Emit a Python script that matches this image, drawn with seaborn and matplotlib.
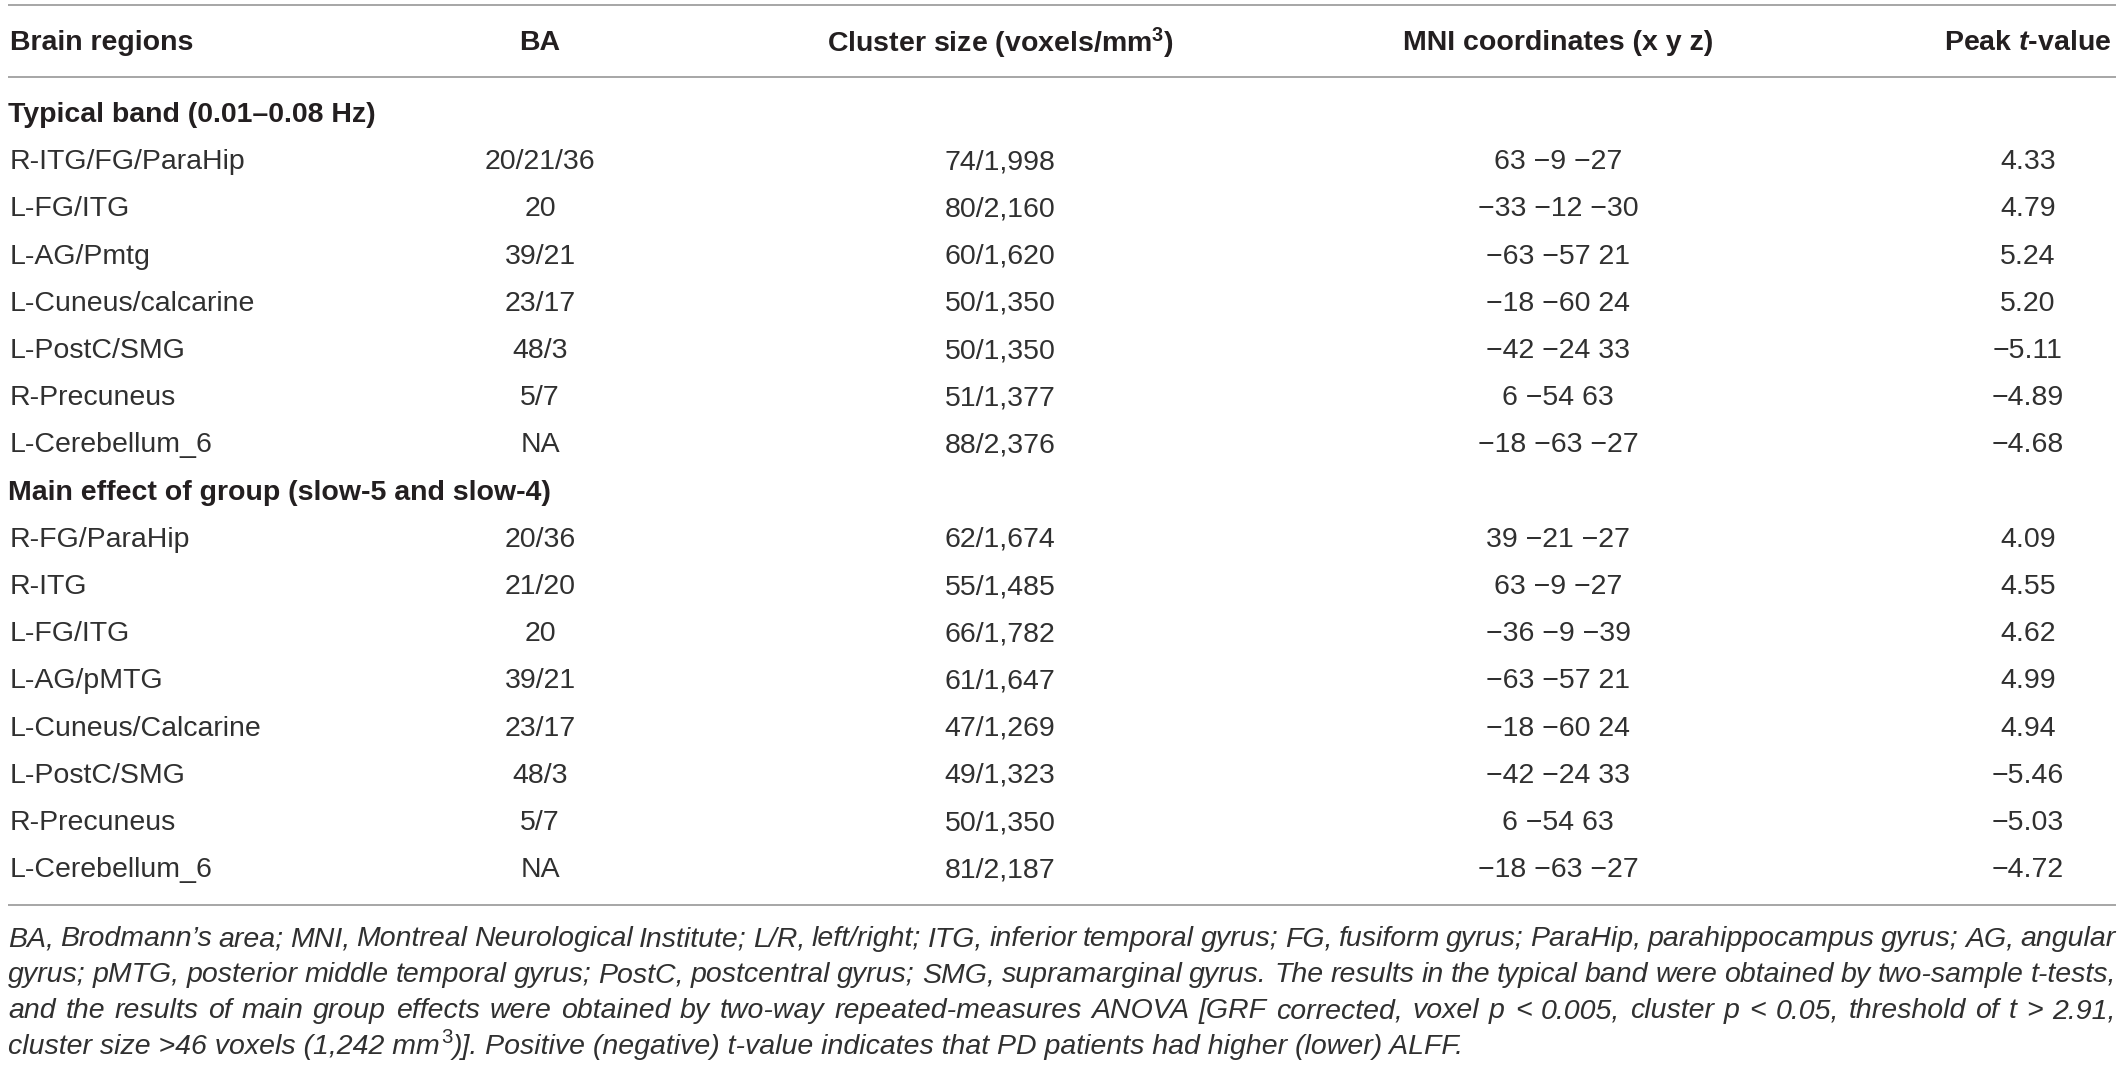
import matplotlib
matplotlib.use("Agg")
import matplotlib.pyplot as plt
import seaborn as sns

# table content
col_heads = ["Brain regions", "BA", r"Cluster size (voxels/mm$^{3}$)",
             "MNI coordinates (x y z)", r"Peak $\mathit{t}$-value"]

sec1_title = "Typical band (0.01–0.08 Hz)"
sec1_regions = ["R-ITG/FG/ParaHip", "L-FG/ITG", "L-AG/Pmtg", "L-Cuneus/calcarine",
                "L-PostC/SMG", "R-Precuneus", "L-Cerebellum_6"]
sec1_ba = ["20/21/36", "20", "39/21", "23/17", "48/3", "5/7", "NA"]
sec1_cluster = ["74/1,998", "80/2,160", "60/1,620", "50/1,350", "50/1,350",
                "51/1,377", "88/2,376"]
sec1_mni = ["63 −9 −27", "−33 −12 −30", "−63 −57 21", "−18 −60 24",
            "−42 −24 33", "6 −54 63", "−18 −63 −27"]
sec1_t = ["4.33", "4.79", "5.24", "5.20", "−5.11", "−4.89", "−4.68"]

sec2_title = "Main effect of group (slow-5 and slow-4)"
sec2_regions = ["R-FG/ParaHip", "R-ITG", "L-FG/ITG", "L-AG/pMTG", "L-Cuneus/Calcarine",
                "L-PostC/SMG", "R-Precuneus", "L-Cerebellum_6"]
sec2_ba = ["20/36", "21/20", "20", "39/21", "23/17", "48/3", "5/7", "NA"]
sec2_cluster = ["62/1,674", "55/1,485", "66/1,782", "61/1,647", "47/1,269",
                "49/1,323", "50/1,350", "81/2,187"]
sec2_mni = ["39 −21 −27", "63 −9 −27", "−36 −9 −39", "−63 −57 21", "−18 −60 24",
            "−42 −24 33", "6 −54 63", "−18 −63 −27"]
sec2_t = ["4.09", "4.55", "4.62", "4.99", "4.94", "−5.46", "−5.03", "−4.72"]

footnote = [
    "BA, Brodmann’s area; MNI, Montreal Neurological Institute; L/R, left/right; ITG, inferior temporal gyrus; FG, fusiform gyrus; ParaHip, parahippocampus gyrus; AG, angular",
    "gyrus; pMTG, posterior middle temporal gyrus; PostC, postcentral gyrus; SMG, supramarginal gyrus. The results in the typical band were obtained by two-sample t-tests,",
    "and the results of main group effects were obtained by two-way repeated-measures ANOVA [GRF corrected, voxel p < 0.005, cluster p < 0.05, threshold of t > 2.91,",
]
# last line has a superscript 3 in the middle
foot_last = ["cluster size >46 voxels (1,242 mm", "3",
             ")]. Positive (negative) t-value indicates that PD patients had higher (lower) ALFF."]

sns.set_theme(style="white")
plt.rcParams["font.family"] = ["Liberation Sans", "DejaVu Sans"]
plt.rcParams["mathtext.fontset"] = "custom"
plt.rcParams["mathtext.it"] = "Liberation Sans:italic:bold"
plt.rcParams["mathtext.rm"] = "Liberation Sans:bold"

W, H = 2122, 1066
fig = plt.figure(figsize=(W / 100, H / 100), dpi=100)
ax = fig.add_axes([0, 0, 1, 1])
ax.set_xlim(0, W)
ax.set_ylim(H, 0)
ax.axis("off")

fs = 20.5
ink = "#231f20"
body = "#303030"
rule = "#a6a6a6"

# column anchors
col_x = [10, 540, 1000, 1558, 2028]
col_ha = ["left", "center", "center", "center", "center"]

# rules
for yy in [5, 77, 905]:
    ax.plot([8, 2116], [yy, yy], color=rule, lw=1.4, solid_capstyle="butt")

# header
for x, ha, txt in zip(col_x, col_ha, col_heads):
    ax.text(x, 43, txt, ha=ha, va="center", fontsize=fs, fontweight="bold", color=ink)

y0 = 115
step = 47.2
row = 0


def section(title, regions, ba, cluster, mni, tval):
    global row
    ax.text(8, y0 + row * step, title, ha="left", va="center", fontsize=fs,
            fontweight="bold", color=ink)
    row += 1
    for vals in zip(regions, ba, cluster, mni, tval):
        yy = y0 + row * step
        for x, ha, v in zip(col_x, col_ha, vals):
            ax.text(x, yy, v, ha=ha, va="center", fontsize=fs, color=body)
        row += 1


section(sec1_title, sec1_regions, sec1_ba, sec1_cluster, sec1_mni, sec1_t)
section(sec2_title, sec2_regions, sec2_ba, sec2_cluster, sec2_mni, sec2_t)

# footnote, justified except the last line
fig.canvas.draw()
renderer = fig.canvas.get_renderer()
fx0, fx1 = 8, 2116
fy = [946, 982, 1018, 1054]
for i, line in enumerate(footnote):
    words = line.split(" ")
    arts = [ax.text(0, fy[i], w, ha="left", va="baseline", fontsize=fs,
                    style="italic", color=body) for w in words]
    widths = [a.get_window_extent(renderer).width for a in arts]
    gap = (fx1 - fx0 - sum(widths)) / (len(words) - 1)
    x = fx0
    for a, w in zip(arts, widths):
        a.set_x(x)
        x += w + gap

# last line: plain, superscript, plain
x = fx0
for j, part in enumerate(foot_last):
    sup = j == 1
    a = ax.text(x + (1 if sup else 0), fy[3] - (11 if sup else 0), part, ha="left",
                va="baseline", fontsize=fs * 0.72 if sup else fs,
                style="normal" if sup else "italic", color=body)
    x += a.get_window_extent(renderer).width + (2 if sup else 0)

fig.savefig("out.png", dpi=100)
